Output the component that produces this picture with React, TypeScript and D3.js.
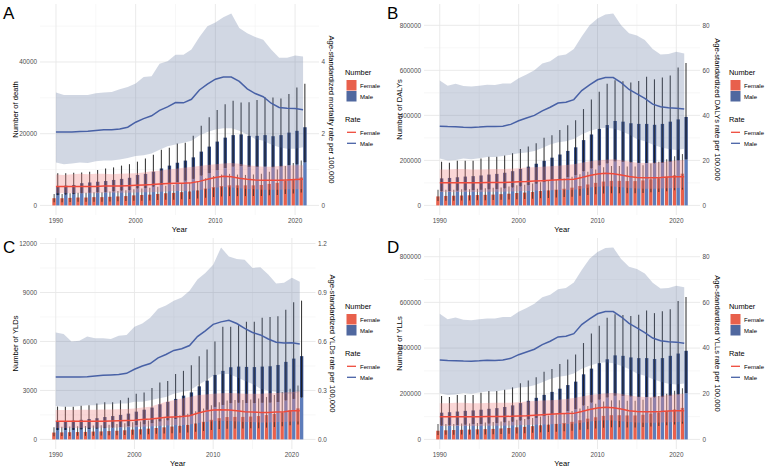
import React, { useEffect, useRef } from 'react';
import * as d3 from 'd3';

const years = [1990, 1991, 1992, 1993, 1994, 1995, 1996, 1997, 1998, 1999, 2000, 2001, 2002, 2003, 2004, 2005,
  2006, 2007, 2008, 2009, 2010, 2011, 2012, 2013, 2014, 2015, 2016, 2017, 2018, 2019, 2020, 2021];

// A: deaths
const deathF     = [2000,2000,2100,2200,2200,2300,2300,2400,2500,2600,2800,2900,3000,3200,3400,3500,3700,3900,4200,4700,5100,5400,5600,5600,5600,5600,5700,6000,6300,6800,7200,7800];
const deathFLow  = [900,900,950,1000,1000,1050,1050,1100,1150,1200,1300,1300,1400,1500,1550,1600,1700,1800,1950,2150,2350,2500,2600,2600,2600,2600,2650,2800,2900,3150,3300,3600];
const deathFHigh = [3200,3200,3400,3500,3500,3700,3700,3900,4000,4200,4500,4700,4900,5200,5500,5700,6000,6300,6800,7600,8200,8600,8800,8600,8500,8600,8800,9400,10000,11000,11800,12500];
const deathM     = [5300,5500,5700,6200,6400,6600,6800,7100,7400,7700,8500,8800,9400,10300,11100,11900,12500,13400,15000,16400,17800,18900,19600,19800,19400,19400,19600,19300,19600,20300,20800,21800];
const deathMLow  = [2800,3000,3100,3400,3500,3600,3700,3900,4100,4200,4700,4800,5200,5700,6100,6500,6900,7400,8300,9000,9800,10400,10800,10900,10700,10700,10800,10600,10800,11200,11400,12000];
const deathMHigh = [8950,8950,9100,9200,9400,9900,10300,10600,11100,11500,12200,13100,14100,15500,16100,17300,17500,19400,22200,24600,26600,28200,29200,28700,28800,29400,30200,30100,29800,31100,32900,33900];
const deathRateF     = [0.53,0.53,0.53,0.53,0.53,0.53,0.54,0.54,0.54,0.55,0.56,0.57,0.58,0.60,0.61,0.62,0.62,0.63,0.67,0.73,0.78,0.81,0.80,0.76,0.73,0.71,0.70,0.70,0.70,0.71,0.72,0.73];
const deathRateFLow  = [0.34,0.34,0.34,0.34,0.34,0.34,0.35,0.35,0.35,0.35,0.36,0.37,0.37,0.38,0.39,0.40,0.40,0.41,0.43,0.46,0.49,0.51,0.50,0.48,0.46,0.45,0.44,0.44,0.44,0.45,0.45,0.46];
const deathRateFHigh = [0.86,0.85,0.87,0.88,0.87,0.88,0.88,0.87,0.88,0.89,0.90,0.92,0.95,0.97,1.00,1.02,1.05,1.07,1.10,1.13,1.15,1.17,1.18,1.16,1.12,1.10,1.08,1.08,1.10,1.11,1.12,1.12];
const deathRateM     = [2.05,2.05,2.05,2.06,2.07,2.09,2.11,2.11,2.13,2.18,2.32,2.42,2.50,2.65,2.75,2.87,2.86,2.96,3.22,3.38,3.52,3.58,3.58,3.46,3.25,3.12,3.03,2.85,2.73,2.71,2.70,2.67];
const deathRateMLow  = [1.20,1.15,1.17,1.20,1.18,1.23,1.25,1.25,1.28,1.32,1.38,1.40,1.45,1.55,1.65,1.70,1.75,1.80,1.95,2.05,2.12,2.15,2.15,2.08,1.98,1.85,1.80,1.70,1.62,1.58,1.58,1.62];
const deathRateMHigh = [3.15,3.08,3.08,3.08,3.08,3.13,3.15,3.16,3.24,3.30,3.40,3.58,3.60,3.95,4.02,4.20,4.20,4.35,4.70,5.00,5.10,5.25,5.35,4.95,4.80,4.70,4.62,4.35,4.12,4.12,4.18,4.15];

// B: DALYs
const dalyF     = [40000,42000,43000,44000,45000,46000,47000,48000,50000,52000,55000,57000,60000,64000,67000,70000,74000,79000,86000,93000,100000,106000,109000,109000,108000,108000,111000,116000,121000,127000,134000,141000];
const dalyFLow  = [20000,21000,21000,22000,22000,23000,23000,24000,25000,26000,27000,28000,30000,32000,33000,35000,37000,39000,43000,46000,50000,53000,54000,54000,54000,54000,55000,58000,60000,63000,67000,70000];
const dalyFHigh = [70000,70000,70000,72000,72000,74000,76000,78000,80000,84000,89000,92000,97000,103000,108000,113000,119000,127000,138000,150000,160000,170000,175000,175000,173000,173000,178000,186000,194000,205000,218000,228000];
const dalyM     = [120000,122000,125000,128000,130000,133000,137000,140000,145000,152000,162000,172000,185000,198000,212000,226000,242000,258000,290000,315000,340000,357000,375000,372000,365000,362000,362000,358000,362000,372000,382000,393000];
const dalyMLow  = [62000,63000,65000,66000,67000,69000,71000,72000,75000,79000,84000,89000,96000,103000,110000,117000,126000,134000,151000,164000,177000,186000,195000,193000,190000,188000,188000,186000,188000,193000,199000,204000];
const dalyMHigh = [194000,190000,198000,198000,198000,208000,216000,216000,222000,232000,250000,262000,276000,300000,312000,335000,356000,378000,428000,470000,505000,540000,556000,552000,546000,553000,572000,560000,568000,577000,613000,632000];
const dalyRateF     = [10.1,10.1,10.1,10.1,10.1,10.1,10.2,10.2,10.2,10.3,10.5,10.6,10.8,11.0,11.2,11.4,11.5,11.6,12.4,13.3,14.0,14.3,14.1,13.5,12.8,12.4,12.3,12.3,12.4,12.6,12.7,12.7];
const dalyRateFLow  = [6.0,6.0,6.0,6.0,6.0,6.0,6.1,6.1,6.1,6.2,6.3,6.4,6.5,6.6,6.7,6.8,6.9,7.0,7.4,7.9,8.3,8.5,8.4,8.1,7.7,7.5,7.4,7.4,7.5,7.6,7.7,7.8];
const dalyRateFHigh = [16.0,16.0,16.2,16.2,16.0,16.0,16.1,16.2,16.2,16.3,16.5,16.8,17.0,17.2,17.4,17.6,17.9,18.3,19.0,19.6,20.0,20.3,20.5,20.1,19.5,19.0,18.8,18.9,19.2,19.6,20.0,20.2];
const dalyRateM     = [35.2,35.0,34.9,34.7,34.6,34.8,35.1,35.0,35.2,36.0,37.6,38.8,40.0,42.0,43.6,45.5,45.8,47.0,51.0,53.5,55.8,56.8,56.8,54.5,51.5,49.5,47.5,45.0,43.8,43.4,43.2,42.8];
const dalyRateMLow  = [20.8,20.0,20.2,20.8,20.5,21.0,21.5,21.5,22.0,22.5,23.2,23.5,24.2,25.5,27.0,28.0,28.5,29.5,31.5,33.0,34.0,34.5,34.2,33.0,31.5,29.5,28.5,27.0,25.8,25.0,24.6,25.2];
const dalyRateMHigh = [55.5,53.2,54.0,53.0,52.8,53.2,53.6,53.5,54.2,54.2,56.5,58.2,60.0,63.0,64.0,66.5,67.0,69.5,75.0,80.0,83.0,84.8,85.2,80.0,76.5,75.5,73.5,69.5,67.0,67.2,68.2,67.5];

// C: YLDs
const yldF     = [420,430,440,450,460,480,490,510,530,560,600,620,660,700,740,790,840,890,980,1080,1200,1300,1370,1380,1380,1400,1430,1490,1560,1660,1780,1900];
const yldFLow  = [200,210,210,220,220,230,240,250,260,270,290,300,320,340,360,380,410,430,470,520,580,630,660,670,670,680,690,720,760,800,860,920];
const yldFHigh = [750,770,790,800,820,850,870,900,940,990,1050,1090,1160,1230,1300,1390,1480,1570,1720,1890,2100,2270,2390,2410,2410,2440,2500,2600,2720,2900,3100,3300];
const yldM     = [1100,1120,1150,1200,1250,1300,1370,1430,1500,1580,1700,1820,1950,2150,2300,2480,2680,2880,3250,3600,3950,4200,4420,4460,4440,4430,4460,4480,4560,4750,4950,5100];
const yldMLow  = [560,570,580,600,630,650,690,720,760,800,860,920,990,1090,1160,1250,1350,1450,1640,1810,1990,2110,2220,2240,2230,2220,2240,2250,2290,2380,2480,2560];
const yldMHigh = [2010,2000,2000,2060,2100,2200,2270,2280,2400,2550,2800,2880,3150,3480,3580,4000,4200,4550,5100,5500,6000,6900,6900,7000,7200,7200,7450,7500,7550,7950,8400,8500];
const yldRateF     = [0.112,0.112,0.112,0.112,0.112,0.112,0.112,0.113,0.115,0.116,0.118,0.122,0.125,0.130,0.135,0.138,0.140,0.145,0.160,0.172,0.180,0.182,0.180,0.175,0.170,0.168,0.165,0.165,0.168,0.170,0.175,0.175];
const yldRateFLow  = [0.070,0.070,0.070,0.070,0.071,0.071,0.071,0.072,0.073,0.074,0.075,0.077,0.079,0.082,0.085,0.087,0.088,0.091,0.100,0.107,0.112,0.114,0.113,0.110,0.107,0.106,0.104,0.104,0.106,0.107,0.110,0.110];
const yldRateFHigh = [0.180,0.180,0.180,0.181,0.182,0.182,0.183,0.183,0.184,0.186,0.190,0.195,0.200,0.215,0.230,0.240,0.250,0.260,0.270,0.275,0.280,0.283,0.285,0.282,0.280,0.280,0.280,0.282,0.285,0.288,0.290,0.295];
const yldRateM     = [0.382,0.383,0.382,0.382,0.384,0.388,0.393,0.395,0.398,0.405,0.430,0.450,0.465,0.500,0.520,0.545,0.555,0.575,0.630,0.665,0.705,0.720,0.730,0.710,0.680,0.655,0.640,0.615,0.595,0.590,0.592,0.585];
const yldRateMLow  = [0.205,0.200,0.200,0.205,0.210,0.210,0.215,0.215,0.220,0.220,0.230,0.230,0.240,0.250,0.260,0.280,0.290,0.300,0.330,0.360,0.390,0.400,0.400,0.380,0.360,0.340,0.310,0.300,0.290,0.280,0.280,0.290];
const yldRateMHigh = [0.655,0.645,0.600,0.605,0.630,0.620,0.620,0.615,0.635,0.640,0.690,0.710,0.745,0.800,0.820,0.850,0.870,0.910,0.980,1.020,1.070,1.175,1.120,1.105,1.100,1.050,1.055,1.010,0.955,0.960,0.990,0.965];

// D: YLLs
const yllF     = [38000,40000,41000,42000,43000,44000,45000,46000,48000,50000,53000,55000,58000,62000,65000,68000,72000,77000,84000,91000,97000,103000,106000,106000,105000,105000,108000,113000,118000,124000,131000,138000];
const yllFLow  = [19000,20000,20000,21000,21000,22000,22000,23000,24000,25000,26000,27000,29000,31000,32000,34000,36000,38000,42000,45000,48000,51000,53000,53000,52000,52000,54000,56000,59000,62000,65000,69000];
const yllFHigh = [67000,68000,68000,70000,70000,72000,74000,76000,78000,82000,86000,89000,94000,100000,105000,110000,116000,124000,135000,146000,156000,166000,171000,171000,169000,169000,174000,182000,190000,200000,213000,224000];
const yllM     = [117000,119000,122000,125000,127000,130000,134000,137000,142000,149000,159000,169000,182000,195000,208000,222000,238000,253000,285000,310000,334000,351000,368000,366000,359000,356000,356000,352000,356000,366000,376000,388000];
const yllMLow  = [60000,61000,63000,64000,66000,67000,69000,71000,74000,77000,82000,87000,94000,101000,108000,115000,124000,132000,148000,161000,174000,183000,191000,190000,187000,185000,185000,183000,185000,190000,196000,202000];
const yllMHigh = [190000,186000,194000,194000,194000,204000,212000,212000,218000,228000,246000,258000,272000,296000,308000,330000,350000,372000,422000,464000,498000,533000,548000,545000,540000,546000,565000,553000,561000,570000,606000,624000];
const yllRateF     = [9.9,9.9,9.9,9.9,9.9,9.9,10.0,10.0,10.0,10.1,10.3,10.4,10.6,10.8,11.0,11.2,11.3,11.4,12.2,13.1,13.8,14.1,13.9,13.3,12.6,12.2,12.1,12.1,12.2,12.4,12.5,12.5];
const yllRateFLow  = [5.9,5.9,5.9,5.9,5.9,5.9,6.0,6.0,6.0,6.1,6.2,6.3,6.4,6.5,6.6,6.7,6.8,6.9,7.3,7.8,8.2,8.4,8.3,8.0,7.6,7.4,7.3,7.3,7.4,7.5,7.6,7.7];
const yllRateFHigh = [15.8,15.8,16.0,16.0,15.8,15.8,15.9,16.0,16.0,16.1,16.3,16.6,16.8,17.0,17.2,17.4,17.7,18.1,18.8,19.4,19.8,20.1,20.3,19.9,19.3,18.8,18.6,18.7,19.0,19.4,19.8,20.0];
const yllRateM     = [34.8,34.6,34.5,34.3,34.2,34.4,34.7,34.6,34.8,35.5,37.1,38.3,39.5,41.5,43.0,44.9,45.2,46.3,50.3,52.8,55.0,56.0,56.0,53.7,50.8,48.8,46.8,44.4,43.2,42.8,42.6,42.1];
const yllRateMLow  = [20.2,19.5,19.7,20.3,20.0,20.5,21.0,21.0,21.5,22.0,22.7,23.0,23.7,25.0,26.5,27.4,27.9,28.9,30.9,32.3,33.3,33.8,33.4,32.3,30.8,28.9,27.9,26.4,25.2,24.4,24.0,24.5];
const yllRateMHigh = [55.0,52.6,53.4,52.4,52.2,52.6,53.0,52.9,53.6,53.6,55.9,57.6,59.4,62.3,63.3,65.8,66.3,68.7,74.2,79.1,82.1,83.8,84.0,79.0,75.6,74.6,72.6,68.6,66.1,66.3,67.3,66.6];

const yearTicks = [1990, 2000, 2010, 2020];
const deathTicks = [0, 20000, 40000];
const deathRateTicks = ['0', '2', '4'];
const dalyTicks = [0, 200000, 400000, 600000, 800000];
const dalyRateTicks = ['0', '20', '40', '60', '80'];
const yldTicks = [0, 3000, 6000, 9000, 12000];
const yldRateTicks = ['0.0', '0.3', '0.6', '0.9', '1.2'];

// rate axis is drawn on the count axis, count = rate * RATE_SCALE
const RATE_SCALE = 10000;

const COL_F = '#e8604c';
const COL_M = '#50689f';
const COL_M_LIGHT = '#5d7cba';
const COL_M_DARK = '#2e4782';
const LINE_F = '#ef4a3b';
const LINE_M = '#4861a6';
const FONT = '"Liberation Sans", Arial, sans-serif';

type Panel = {
  letter: string; ox: number; oy: number; right: number; rTitleX: number;
  yTitle: string; rTitle: string; ticks: number[]; rateTicks: string[];
  f: number[]; fLow: number[]; fHigh: number[];
  m: number[]; mLow: number[]; mHigh: number[];
  rf: number[]; rfLow: number[]; rfHigh: number[];
  rm: number[]; rmLow: number[]; rmHigh: number[];
};

const panels: Panel[] = [
  { letter: 'A', ox: 0, oy: 0, right: 319, rTitleX: 329, yTitle: 'Number of death', rTitle: 'Age-standardized mortality rate per 100,000',
    ticks: deathTicks, rateTicks: deathRateTicks,
    f: deathF, fLow: deathFLow, fHigh: deathFHigh, m: deathM, mLow: deathMLow, mHigh: deathMHigh,
    rf: deathRateF, rfLow: deathRateFLow, rfHigh: deathRateFHigh, rm: deathRateM, rmLow: deathRateMLow, rmHigh: deathRateMHigh },
  { letter: 'B', ox: 384, oy: 0, right: 316, rTitleX: 331, yTitle: 'Number of DALYs', rTitle: 'Age-standardized DALYs rate per 100,000',
    ticks: dalyTicks, rateTicks: dalyRateTicks,
    f: dalyF, fLow: dalyFLow, fHigh: dalyFHigh, m: dalyM, mLow: dalyMLow, mHigh: dalyMHigh,
    rf: dalyRateF, rfLow: dalyRateFLow, rfHigh: dalyRateFHigh, rm: dalyRateM, rmLow: dalyRateMLow, rmHigh: dalyRateMHigh },
  { letter: 'C', ox: 0, oy: 234, right: 315.5, rTitleX: 330, yTitle: 'Number of YLDs', rTitle: 'Age-standardized YLDs rate per 100,000',
    ticks: yldTicks, rateTicks: yldRateTicks,
    f: yldF, fLow: yldFLow, fHigh: yldFHigh, m: yldM, mLow: yldMLow, mHigh: yldMHigh,
    rf: yldRateF, rfLow: yldRateFLow, rfHigh: yldRateFHigh, rm: yldRateM, rmLow: yldRateMLow, rmHigh: yldRateMHigh },
  { letter: 'D', ox: 384, oy: 234, right: 316, rTitleX: 331, yTitle: 'Number of YLLs', rTitle: 'Age-standardized YLLs rate per 100,000',
    ticks: dalyTicks, rateTicks: dalyRateTicks,
    f: yllF, fLow: yllFLow, fHigh: yllFHigh, m: yllM, mLow: yllMLow, mHigh: yllMHigh,
    rf: yllRateF, rfLow: yllRateFLow, rfHigh: yllRateFHigh, rm: yllRateM, rmLow: yllRateMLow, rmHigh: yllRateMHigh },
];

const PANEL_LEFT = 40;
const PANEL_TOP = 4;
const PANEL_BOTTOM = 215;

function drawPanel(root: d3.Selection<SVGSVGElement, unknown, null, undefined>, p: Panel) {
  const g = root.append('g').attr('transform', `translate(${p.ox},${p.oy})`);
  const left = PANEL_LEFT, right = p.right;

  const x = d3.scaleLinear().domain([1988, 2023]).range([left, right]);
  const top = d3.max([...p.fHigh, ...p.mHigh, ...p.rmHigh.map(v => v * RATE_SCALE), ...p.rfHigh.map(v => v * RATE_SCALE)]) as number;
  const y = d3.scaleLinear().domain([-0.05 * top, 1.05 * top]).range([PANEL_BOTTOM, PANEL_TOP]);

  // grid
  const step = p.ticks[1] - p.ticks[0];
  const minor = p.ticks.map(t => t + step / 2).filter(v => y(v) > PANEL_TOP);
  const grid = g.append('g');
  minor.forEach(v => grid.append('line').attr('x1', left).attr('x2', right).attr('y1', y(v)).attr('y2', y(v))
    .attr('stroke', '#f2f2f2').attr('stroke-width', 0.6));
  [1995, 2005, 2015].forEach(v => grid.append('line').attr('x1', x(v)).attr('x2', x(v)).attr('y1', PANEL_TOP).attr('y2', PANEL_BOTTOM)
    .attr('stroke', '#f2f2f2').attr('stroke-width', 0.6));
  p.ticks.forEach(v => grid.append('line').attr('x1', left).attr('x2', right).attr('y1', y(v)).attr('y2', y(v))
    .attr('stroke', '#e8e8e8').attr('stroke-width', 0.9));
  yearTicks.forEach(v => grid.append('line').attr('x1', x(v)).attr('x2', x(v)).attr('y1', PANEL_TOP).attr('y2', PANEL_BOTTOM)
    .attr('stroke', '#e8e8e8').attr('stroke-width', 0.9));

  const idx = d3.range(years.length);
  const bw = 0.45;

  // bars: female on the left half, male on the right half of each year
  g.append('g').selectAll('rect').data(idx).enter().append('rect')
    .attr('x', i => x(years[i] - bw)).attr('width', i => x(years[i]) - x(years[i] - bw) - 0.2)
    .attr('y', i => y(p.f[i])).attr('height', i => y(0) - y(p.f[i]))
    .attr('fill', COL_F);
  g.append('g').selectAll('rect').data(idx).enter().append('rect')
    .attr('x', i => x(years[i]) + 0.2).attr('width', i => x(years[i] + bw) - x(years[i]) - 0.2)
    .attr('y', i => y(p.mLow[i])).attr('height', i => y(0) - y(p.mLow[i]))
    .attr('fill', COL_M_LIGHT);
  g.append('g').selectAll('rect').data(idx).enter().append('rect')
    .attr('x', i => x(years[i]) + 0.2).attr('width', i => x(years[i] + bw) - x(years[i]) - 0.2)
    .attr('y', i => y(p.m[i])).attr('height', i => y(p.mLow[i]) - y(p.m[i]))
    .attr('fill', COL_M_DARK);

  // uncertainty intervals of counts
  g.append('g').selectAll('line').data(idx).enter().append('line')
    .attr('x1', i => x(years[i] - bw / 2)).attr('x2', i => x(years[i] - bw / 2))
    .attr('y1', i => y(p.fLow[i])).attr('y2', i => y(p.fHigh[i]))
    .attr('stroke', '#2a2a2a').attr('stroke-opacity', 0.75).attr('stroke-width', 1.1);
  g.append('g').selectAll('line').data(idx).enter().append('line')
    .attr('x1', i => x(years[i] + bw / 2)).attr('x2', i => x(years[i] + bw / 2))
    .attr('y1', i => y(p.mLow[i])).attr('y2', i => y(p.mHigh[i]))
    .attr('stroke', '#1a1a1a').attr('stroke-opacity', 0.85).attr('stroke-width', 1.1);

  // rate ribbons and lines
  const ribbon = (lo: number[], hi: number[]) => d3.area<number>()
    .x(i => x(years[i])).y0(i => y(lo[i] * RATE_SCALE)).y1(i => y(hi[i] * RATE_SCALE))(idx);
  const line = (v: number[]) => d3.line<number>().x(i => x(years[i])).y(i => y(v[i] * RATE_SCALE))(idx);

  g.append('path').attr('d', ribbon(p.rmLow, p.rmHigh)).attr('fill', '#5a7099').attr('fill-opacity', 0.28);
  g.append('path').attr('d', ribbon(p.rfLow, p.rfHigh)).attr('fill', '#f08a8a').attr('fill-opacity', 0.35);
  g.append('path').attr('d', line(p.rf)).attr('fill', 'none').attr('stroke', LINE_F).attr('stroke-width', 1.5);
  g.append('path').attr('d', line(p.rm)).attr('fill', 'none').attr('stroke', LINE_M).attr('stroke-width', 1.5);

  // axes text
  const tickStyle = (s: d3.Selection<SVGTextElement, unknown, null, undefined>) =>
    s.attr('font-family', FONT).attr('font-size', 6.4).attr('fill', '#4d4d4d');

  p.ticks.forEach(v => {
    tickStyle(g.append('text')).attr('x', left - 3).attr('y', y(v)).attr('dy', '0.35em')
      .attr('text-anchor', 'end').text(String(v));
  });
  p.rateTicks.forEach(t => {
    tickStyle(g.append('text')).attr('x', right + 2.5).attr('y', y(+t * RATE_SCALE)).attr('dy', '0.35em').text(t);
  });
  yearTicks.forEach(v => {
    tickStyle(g.append('text')).attr('x', x(v)).attr('y', 222.5).attr('text-anchor', 'middle').text(String(v));
  });

  const mid = (PANEL_TOP + PANEL_BOTTOM) / 2;
  g.append('text').attr('x', (left + right) / 2).attr('y', 231.5).attr('text-anchor', 'middle')
    .attr('font-family', FONT).attr('font-size', 7.6).text('Year');
  g.append('text').attr('transform', `translate(17.5,${mid}) rotate(-90)`).attr('text-anchor', 'middle')
    .attr('font-family', FONT).attr('font-size', 7.6).text(p.yTitle);
  g.append('text').attr('transform', `translate(${p.rTitleX},${mid}) rotate(90)`).attr('text-anchor', 'middle')
    .attr('font-family', FONT).attr('font-size', 7.6).text(p.rTitle);

  g.append('text').attr('x', 3).attr('y', 18.5).attr('font-family', FONT).attr('font-size', 17).text(p.letter);

  // legend
  const lg = g.append('g').attr('transform', 'translate(345,0)').attr('font-family', FONT);
  lg.append('text').attr('x', 0).attr('y', 75).attr('font-size', 7.4).text('Number');
  lg.append('rect').attr('x', 1.5).attr('y', 80).attr('width', 10).attr('height', 10.5).attr('fill', COL_F);
  lg.append('rect').attr('x', 1.5).attr('y', 91).attr('width', 10).attr('height', 10.5).attr('fill', COL_M);
  lg.append('text').attr('x', 15).attr('y', 87.5).attr('font-size', 6).text('Female');
  lg.append('text').attr('x', 15).attr('y', 98.5).attr('font-size', 6).text('Male');
  lg.append('text').attr('x', 0).attr('y', 122).attr('font-size', 7.4).text('Rate');
  lg.append('line').attr('x1', 2).attr('x2', 11).attr('y1', 132.3).attr('y2', 132.3).attr('stroke', LINE_F).attr('stroke-width', 1.3);
  lg.append('line').attr('x1', 2).attr('x2', 11).attr('y1', 143.3).attr('y2', 143.3).attr('stroke', LINE_M).attr('stroke-width', 1.3);
  lg.append('text').attr('x', 15).attr('y', 134.5).attr('font-size', 6).text('Female');
  lg.append('text').attr('x', 15).attr('y', 145.5).attr('font-size', 6).text('Male');
}

export default function App() {
  const ref = useRef<SVGSVGElement>(null);

  useEffect(() => {
    if (!ref.current) return;
    const svg = d3.select(ref.current);
    svg.selectAll('*').remove();
    svg.append('rect').attr('width', 767).attr('height', 469).attr('fill', '#fff');
    panels.forEach(p => drawPanel(svg, p));
  }, []);

  return (
    <svg ref={ref} width={767} height={469} viewBox="0 0 767 469"
      style={{ position: 'absolute', left: 0, top: 0, display: 'block' }} />
  );
}
